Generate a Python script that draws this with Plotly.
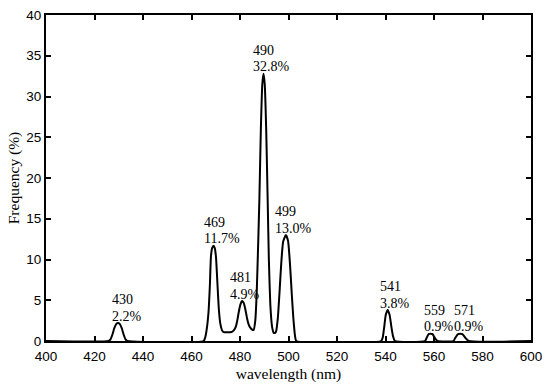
import plotly.graph_objects as go

# spectrum curve (wavelength nm, frequency %)
wavelength = [400, 425.8, 426.6, 427.4, 428.2, 429.0, 429.7, 430.4, 431.2, 432.0, 432.8, 433.6,
              465.0, 465.6, 466.3, 467.0, 467.6, 468.0, 468.5, 469.1, 469.6, 470.1, 470.7, 471.3,
              471.9, 472.6, 473.2, 476.5, 477.4, 478.2, 478.8, 479.4, 480.1, 480.8, 481.5, 482.2,
              482.9, 483.6, 484.3, 485.0, 485.6, 486.3, 486.9, 487.5, 488.0, 488.6, 489.2, 489.7,
              490.2, 490.8, 491.4, 491.9, 492.5, 493.2, 493.9, 494.5, 494.9, 495.6, 496.3, 497.0,
              497.8, 498.9, 499.8, 500.6, 501.3, 502.0, 502.7, 503.2,
              538.2, 538.9, 539.5, 540.1, 540.9, 541.7, 542.4, 543.1, 543.9,
              556.3, 557.0, 557.8, 558.6, 559.4, 560.3, 561.4,
              568.0, 568.8, 569.9, 570.8, 571.7, 572.9, 574.3, 600]
frequency = [0, 0, 0.2, 0.8, 1.6, 2.1, 2.2, 2.1, 1.6, 0.8, 0.2, 0,
             0, 0.4, 1.5, 3.5, 7.0, 10.3, 11.4, 11.7, 11.4, 10.3, 7.0, 3.8,
             2.1, 1.3, 1.1, 1.1, 1.3, 1.7, 2.4, 3.4, 4.4, 4.9, 4.7, 3.9,
             2.8, 2.0, 1.6, 1.4, 1.35, 2.5, 6.0, 12.0, 17.5, 26.0, 31.5, 32.8,
             31.5, 26.0, 17.5, 10.0, 4.5, 1.8, 1.0, 1.0, 1.2, 2.8, 6.0, 9.5,
             12.2, 13.0, 12.3, 9.5, 6.0, 2.8, 0.6, 0,
             0, 0.5, 1.8, 3.2, 3.8, 3.2, 1.8, 0.6, 0,
             0, 0.4, 0.85, 0.9, 0.85, 0.4, 0,
             0, 0.4, 0.85, 0.9, 0.85, 0.4, 0, 0]

# peak labels
peak_wl = [430, 469, 481, 490, 499, 541, 559, 571]
peak_pct = [2.2, 11.7, 4.9, 32.8, 13.0, 3.8, 0.9, 0.9]

x_ticks = [400, 420, 440, 460, 480, 500, 520, 540, 560, 580, 600]
y_ticks = [0, 5, 10, 15, 20, 25, 30, 35, 40]

serif = "Times New Roman, Liberation Serif, serif"
sans = "Arial, Liberation Sans, sans-serif"

fig = go.Figure()
fig.add_trace(go.Scatter(x=wavelength, y=frequency, mode="lines",
                         line=dict(color="black", width=2, shape="spline", smoothing=0.5),
                         hoverinfo="skip", showlegend=False, cliponaxis=True))

label_shift = [-9, -11, -14, -13, -13, -10, -10, -9]
for wl, pct, sh in zip(peak_wl, peak_pct, label_shift):
    for txt, ys in ((f"{wl}", 8.3), (f"{pct:.1f}%", -8.3)):
        fig.add_annotation(x=wl, y=pct + 1.85, xref="x", yref="y",
                           text=txt, showarrow=False,
                           xanchor="left", yanchor="middle", align="left",
                           xshift=sh, yshift=ys,
                           font=dict(family=serif, size=14, color="black"))

axis_common = dict(showline=True, linecolor="black", linewidth=2, mirror="ticks",
                   ticks="inside", ticklen=5, tickwidth=1.5, tickcolor="black",
                   showgrid=False, zeroline=False, automargin=False,
                   tickfont=dict(family=sans, size=13.5, color="black"))

fig.update_layout(
    width=550, height=387,
    margin=dict(l=46, r=19, t=15, b=46),
    paper_bgcolor="white", plot_bgcolor="white",
    xaxis=dict(range=[400, 600], tickvals=x_ticks, ticklabelstandoff=2,
               title=dict(text="wavelength (nm)", font=dict(family=serif, size=15.5, color="black"),
                          standoff=5),
               **axis_common),
    yaxis=dict(range=[0, 40], tickvals=y_ticks,
               title=dict(text="Frequency (%)", font=dict(family=serif, size=15.5, color="black"),
                          standoff=3),
               **axis_common),
)

fig.write_html("out.html", config={"displayModeBar": False},
               post_script="document.body.style.margin='0';")
